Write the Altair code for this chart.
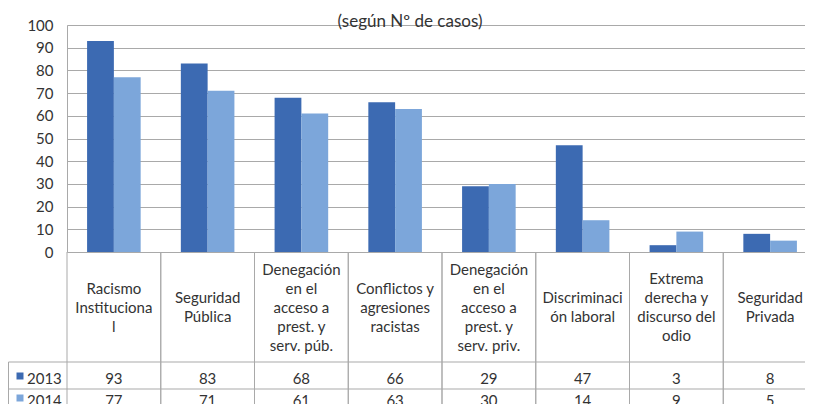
import altair as alt
import pandas as pd

# ---- data ----
cat_keys = ["racismo", "seg_pub", "deneg_pub", "conflictos", "deneg_priv",
            "discrim", "extrema", "seg_priv"]
cat_labels = ["Racismo\nInstituciona\nl", "Seguridad\nPública",
              "Denegación\nen el\nacceso a\nprest. y\nserv. púb.",
              "Conflictos y\nagresiones\nracistas",
              "Denegación\nen el\nacceso a\nprest. y\nserv. priv.",
              "Discriminaci\nón laboral", "Extrema\nderecha y\ndiscurso del\nodio",
              "Seguridad\nPrivada"]
years = ["2013", "2014"]
v2013 = [93, 83, 68, 66, 29, 47, 3, 8]
v2014 = [77, 71, 61, 63, 30, 14, 9, 5]
subtitle = "(según Nº de casos)"
y_ticks = [0, 10, 20, 30, 40, 50, 60, 70, 80, 90, 100]

# ---- tables built from the arrays ----
rows = []
for k, a, b in zip(cat_keys, v2013, v2014):
    rows.append({"cat": k, "year": "2013", "value": a})
    rows.append({"cat": k, "year": "2014", "value": b})
long_df = pd.DataFrame(rows)
cat_df = pd.DataFrame({"cat": cat_keys, "label": cat_labels})
year_df = pd.DataFrame({"year": years})
one = pd.DataFrame({"k": [0]})

DARK = "#3C6AB2"
LIGHT = "#7CA6DA"
LINE = "#A9A9A9"
TXT = "#333333"
FONT = "Lato"
LH = 19          # line height of the category labels
CAT_MID = 282.5  # vertical centre of the category row (plot pixels)
XR = 750         # full extent of the category band (right part cropped)

x_scale = alt.Scale(domain=cat_keys, range=[0, XR], paddingInner=0, paddingOuter=0)
X = alt.X("cat:N", scale=x_scale, axis=None)
color = alt.Color("year:N", scale=alt.Scale(domain=years, range=[DARK, LIGHT]), legend=None)

bars = alt.Chart(long_df).mark_bar().encode(
    x=X,
    xOffset=alt.XOffset("year:N", scale=alt.Scale(domain=years, paddingOuter=0.75, paddingInner=0)),
    y=alt.Y("value:Q", scale=alt.Scale(domain=[0, 100], nice=False),
            axis=alt.Axis(values=y_ticks, title=None, ticks=False, labelPadding=14,
                          labelFontSize=15, labelColor=TXT, labelFont=FONT,
                          gridColor=LINE, domainColor=LINE, grid=True)),
    color=color,
)

sub = alt.Chart(pd.DataFrame({"t": [subtitle]})).mark_text(
    fontSize=17, font=FONT, color=TXT, align="center", baseline="alphabetic"
).encode(x=alt.value(343), y=alt.value(2), text="t:N")

vlines = alt.Chart(cat_df).mark_rule(color=LINE).encode(
    x=alt.X("cat:N", scale=x_scale, axis=None, bandPosition=0),
    y=alt.value(227), y2=alt.value(400))
vlines_r = alt.Chart(cat_df).mark_rule(color=LINE).encode(
    x=alt.X("cat:N", scale=x_scale, axis=None, bandPosition=1),
    y=alt.value(227), y2=alt.value(400))
hline1 = alt.Chart(one).mark_rule(color=LINE).encode(
    x=alt.value(-58.5), x2=alt.value(XR), y=alt.value(337))
hline2 = alt.Chart(one).mark_rule(color=LINE).encode(
    x=alt.value(-58.5), x2=alt.value(XR), y=alt.value(364))
lborder = alt.Chart(one).mark_rule(color=LINE).encode(
    x=alt.value(-58.5), y=alt.value(337), y2=alt.value(400))

cat_text = alt.Chart(cat_df).transform_calculate(
    ypos=f"{CAT_MID} - (length(split(datum.label, '\\n')) - 1) * {LH} / 2"
).mark_text(
    fontSize=15, font=FONT, color=TXT, align="center", baseline="middle",
    lineBreak="\n", lineHeight=LH
).encode(x=X, y=alt.Y("ypos:Q", scale=None, axis=None), text="label:N")

val13 = alt.Chart(long_df).transform_filter(alt.datum.year == "2013").mark_text(
    fontSize=15, font=FONT, color=TXT, align="center", baseline="middle"
).encode(x=X, y=alt.value(354), text="value:Q")
val14 = alt.Chart(long_df).transform_filter(alt.datum.year == "2014").mark_text(
    fontSize=15, font=FONT, color=TXT, align="center", baseline="middle"
).encode(x=X, y=alt.value(376), text="value:Q")

leg_sq13 = alt.Chart(year_df).transform_filter(alt.datum.year == "2013").mark_square(
    size=49, opacity=1).encode(x=alt.value(-47), y=alt.value(351), color=color)
leg_sq14 = alt.Chart(year_df).transform_filter(alt.datum.year == "2014").mark_square(
    size=49, opacity=1).encode(x=alt.value(-47), y=alt.value(373), color=color)
leg_t13 = alt.Chart(year_df).transform_filter(alt.datum.year == "2013").mark_text(
    fontSize=15, font=FONT, color=TXT, align="left", baseline="middle"
).encode(x=alt.value(-40), y=alt.value(354), text="year:N")
leg_t14 = alt.Chart(year_df).transform_filter(alt.datum.year == "2014").mark_text(
    fontSize=15, font=FONT, color=TXT, align="left", baseline="middle"
).encode(x=alt.value(-40), y=alt.value(376), text="year:N")

chart = alt.layer(
    bars, vlines, vlines_r, hline1, hline2, lborder, sub, cat_text,
    val13, val14, leg_sq13, leg_sq14, leg_t13, leg_t14
).properties(
    width=738, height=227,
    autosize=alt.AutoSizeParams(type="none"),
    padding={"left": 59, "top": 17, "right": 0, "bottom": 152},
).configure_view(stroke=None).configure(background="white")

chart.save("out.html", embed_options={"renderer": "svg", "actions": False})
